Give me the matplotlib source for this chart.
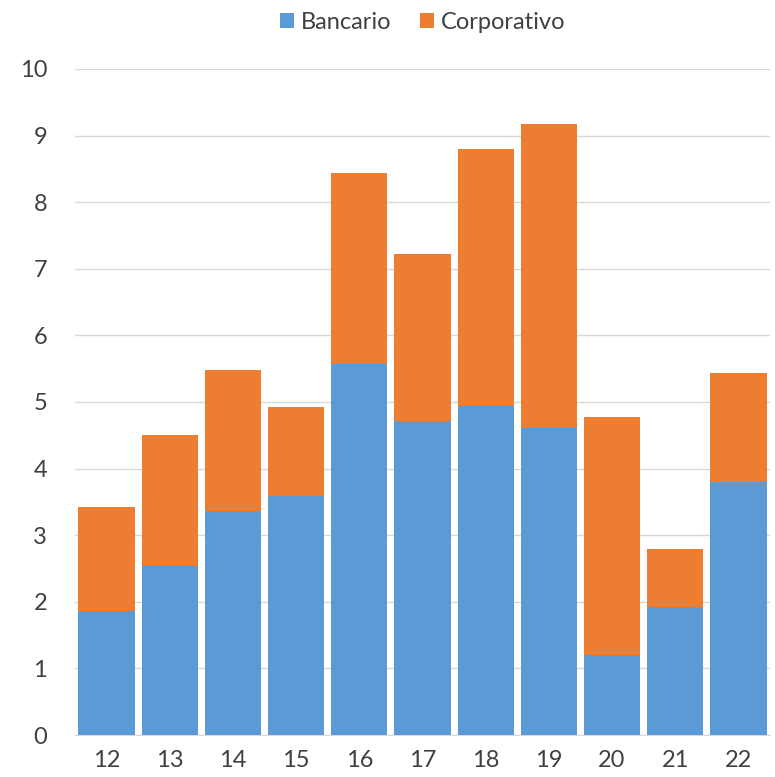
import matplotlib
matplotlib.use("Agg")
import matplotlib.pyplot as plt

# data
years = ['12', '13', '14', '15', '16', '17', '18', '19', '20', '21', '22']
bancario = [1.86, 2.54, 3.36, 3.59, 5.57, 4.71, 4.94, 4.61, 1.20, 1.92, 3.80]
totals = [3.42, 4.50, 5.48, 4.92, 8.44, 7.22, 8.80, 9.17, 4.77, 2.79, 5.44]
corporativo = [t - b for t, b in zip(totals, bancario)]

plt.rcParams['font.family'] = ['Lato', 'DejaVu Sans']

fig = plt.figure(figsize=(7.75, 7.77), dpi=100)
# place axes so that y=0 sits at pixel 735 and y=10 at pixel 69
ax = fig.add_axes([75 / 775, 1 - 735 / 777, 695 / 775, (735 - 69) / 777])

x = range(len(years))
ax.bar(x, bancario, width=0.89, color='#5b9bd5', label='Bancario', zorder=3)
ax.bar(x, corporativo, width=0.89, bottom=bancario, color='#ed7d31',
       label='Corporativo', zorder=3)

ax.set_ylim(0, 10)
ax.set_xlim(-0.5, len(years) - 0.5)
ax.set_yticks(range(0, 11))
ax.set_xticks(list(x))
ax.set_xticklabels(years)
ax.tick_params(axis='both', length=0, labelsize=17, colors='#404040')
ax.tick_params(axis='y', pad=20)
ax.tick_params(axis='x', pad=11)
ax.grid(axis='y', color='#d9d9d9', linewidth=1, zorder=0)
for side in ['top', 'right', 'left']:
    ax.spines[side].set_visible(False)
ax.spines['bottom'].set_color('#d9d9d9')

ax.legend(loc='upper center', bbox_to_anchor=(0.5, 1.1), ncol=2, frameon=False,
          fontsize=17, handlelength=0.6, handleheight=0.6, columnspacing=1.2,
          handletextpad=0.3, labelcolor='#404040', borderaxespad=0)

fig.savefig('out.png', dpi=100)
